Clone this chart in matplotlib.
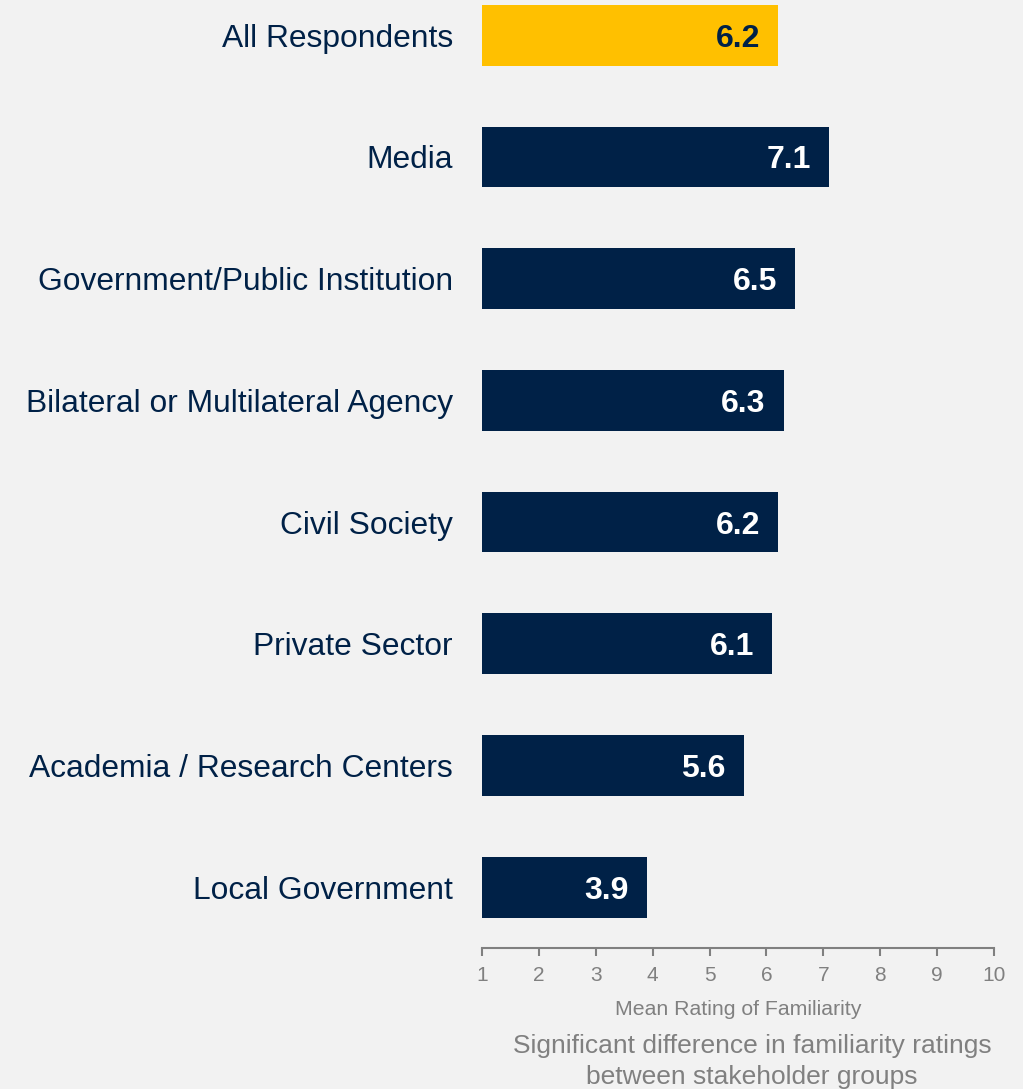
import matplotlib
matplotlib.use("Agg")
import matplotlib.pyplot as plt

categories = ["All Respondents", "Media", "Government/Public Institution",
              "Bilateral or Multilateral Agency", "Civil Society", "Private Sector",
              "Academia / Research Centers", "Local Government"]
values = [6.2, 7.1, 6.5, 6.3, 6.2, 6.1, 5.6, 3.9]
value_labels = ["6.2", "7.1", "6.5", "6.3", "6.2", "6.1", "5.6", "3.9"]
ticks = [1, 2, 3, 4, 5, 6, 7, 8, 9, 10]
xlabel = "Mean Rating of Familiarity"
footnote_lines = ["Significant difference in familiarity ratings",
                  "between stakeholder groups"]

plt.rcParams['font.family'] = ['Liberation Sans', 'DejaVu Sans']

BG = "#f2f2f2"
NAVY = "#002147"
GOLD = "#ffc000"
GRAY = "#808080"

fig = plt.figure(figsize=(10.23, 10.89), dpi=100, facecolor=BG)
ax = fig.add_axes([482/1023, (1089-948)/1089, 512/1023, 948/1089], facecolor=BG)

base = 1
ypos = list(range(len(categories)))
colors = [GOLD] + [NAVY] * (len(categories) - 1)
ax.barh(ypos, [v - base for v in values], left=base, height=0.5, color=colors)

for i, (v, lab) in enumerate(zip(values, value_labels)):
    ax.annotate(lab, xy=(v, i), xytext=(-18, 0), textcoords="offset pixels",
                ha="right", va="center_baseline", fontsize=23, fontweight="bold",
                color=NAVY if i == 0 else "white")

ax.set_xlim(1, 10)
ax.set_ylim(7.5, -0.29)
ax.set_xticks(ticks)
ax.set_xticklabels([str(t) for t in ticks])
ax.set_yticks(ypos)
ax.set_yticklabels(categories)
ax.tick_params(axis="y", length=0, pad=21, labelsize=22.9, labelcolor=NAVY)
ax.tick_params(axis="x", direction="out", length=6, width=1.5, color=GRAY,
               labelcolor=GRAY, labelsize=15, pad=7)
for s in ["top", "right", "left"]:
    ax.spines[s].set_visible(False)
ax.spines["bottom"].set_color(GRAY)
ax.spines["bottom"].set_linewidth(1.5)
ax.set_xlabel(xlabel, fontsize=15.3, color=GRAY, labelpad=11)

for k, (line, yc) in enumerate(zip(footnote_lines, [1046, 1077])):
    fig.text(752/1023, 1-yc/1089, line, ha="center", va="center",
             fontsize=19, color=GRAY)

fig.savefig("out.png", dpi=100, facecolor=BG)
